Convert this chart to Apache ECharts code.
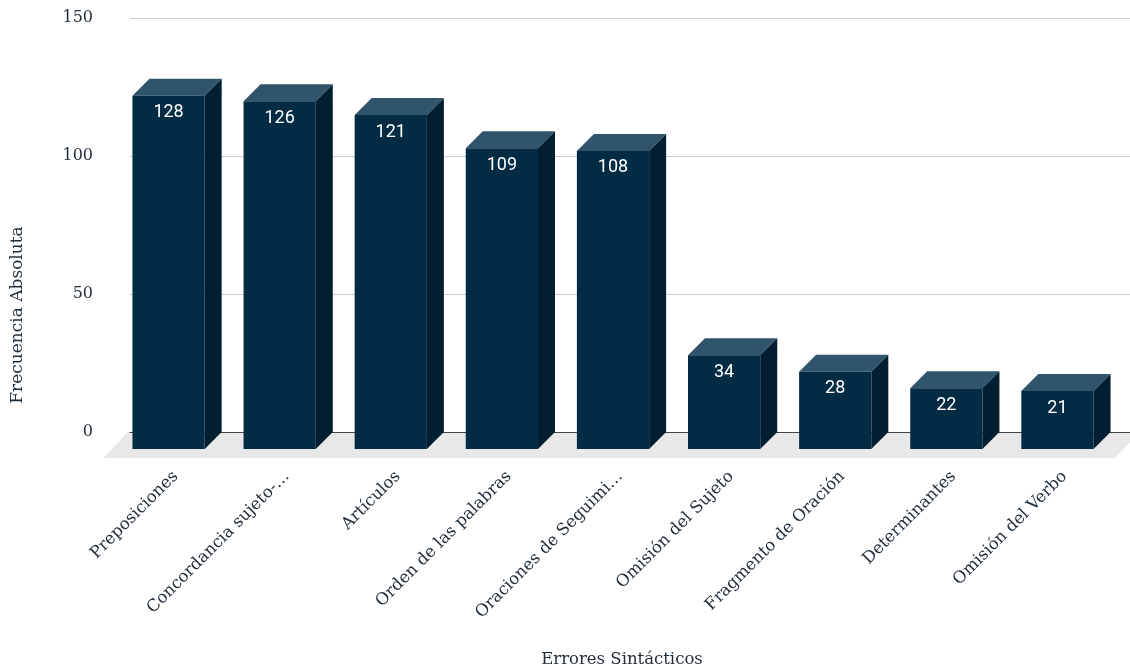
<!DOCTYPE html>
<html>
<head>
<meta charset="utf-8">
<script src="https://cdn.jsdelivr.net/npm/echarts@6/dist/echarts.min.js"></script>
<style>
html,body{margin:0;padding:0;background:#fff;}
#main{width:1130px;height:669px;}
</style>
</head>
<body>
<div id="main"></div>
<script>
const categories = ['Preposiciones','Concordancia sujeto-…','Artículos','Orden de las palabras','Oraciones de Seguimi…','Omisión del Sujeto','Fragmento de Oración','Determinantes','Omisión del Verbo'];
const values = [128,126,121,109,108,34,28,22,21];
const yTicks = {min:0, max:150, interval:50};
const xTitle = 'Errores Sintácticos';
const yTitle = 'Frecuencia Absoluta';

const FRONT = '#032b44', TOP = '#31546d', SIDE = '#011f31';
const DEPTH = 17;
const chart = echarts.init(document.getElementById('main'));

function renderBar(params, api){
  const i = api.value(0), v = api.value(1);
  const top = api.coord([i, v]);
  const base = api.coord([i, 0]);
  const bw = api.size([1, 0])[0] * 0.65;
  const xl = top[0] - bw/2, xr = top[0] + bw/2;
  const yt = top[1], yb = base[1], d = DEPTH;
  return {
    type:'group',
    children:[
      {type:'polygon', shape:{points:[[xl-d,yt+d],[xr-d,yt+d],[xr,yt],[xl,yt]]}, style:{fill:TOP}},
      {type:'polygon', shape:{points:[[xr-d,yt+d],[xr,yt],[xr,yb],[xr-d,yb+d]]}, style:{fill:SIDE}},
      {type:'rect', shape:{x:xl-d, y:yt+d, width:bw, height:yb-yt}, style:{fill:FRONT}},
      {type:'text', x:top[0]-d, y:yt+d+17, style:{text:String(v), fill:'#ffffff', font:'18px Roboto', align:'center', verticalAlign:'middle'}}
    ]
  };
}

function renderFloor(params, api){
  const cs = params.coordSys;
  const base = api.coord([0, 0])[1];
  const gl = cs.x - 2, gr = cs.x + cs.width + 10;
  return {type:'polygon', shape:{points:[[gl,base],[gr,base],[gr-25,base+26],[gl-25,base+26]]}, style:{fill:'#e8e8e8'}};
}

chart.setOption({
  animation:false,
  grid:{left:130, right:0, top:18, bottom:237, containLabel:false},
  xAxis:{
    type:'category', data:categories,
    axisLine:{show:true, lineStyle:{color:'#444', width:1}},
    axisTick:{show:false},
    axisLabel:{interval:0, rotate:45, margin:32, padding:[0,14,0,0], color:'#1f2d3a', fontFamily:'DejaVu Serif', fontSize:16.5}
  },
  yAxis:{
    type:'value', min:yTicks.min, max:yTicks.max, interval:yTicks.interval,
    axisLine:{show:false}, axisTick:{show:false},
    axisLabel:{margin:37, color:'#1f2d3a', fontFamily:'DejaVu Serif', fontSize:16},
    splitLine:{lineStyle:{color:'#cccccc', width:1}}
  },
  graphic:[
    {type:'text', x:622, y:660, style:{text:xTitle, font:'16.5px "DejaVu Serif"', fill:'#1f2d3a', align:'center', verticalAlign:'middle'}},
    {type:'text', x:18, y:315, rotation:Math.PI/2, style:{text:yTitle, font:'17px "DejaVu Serif"', fill:'#1f2d3a', align:'center', verticalAlign:'middle'}}
  ],
  series:[
    {type:'custom', z:-1, clip:false, renderItem:renderFloor, data:[[0,0]], silent:true},
    {type:'custom', z:3, clip:false, renderItem:renderBar, data:values.map((v,i)=>[i,v])}
  ]
});
</script>
</body>
</html>
